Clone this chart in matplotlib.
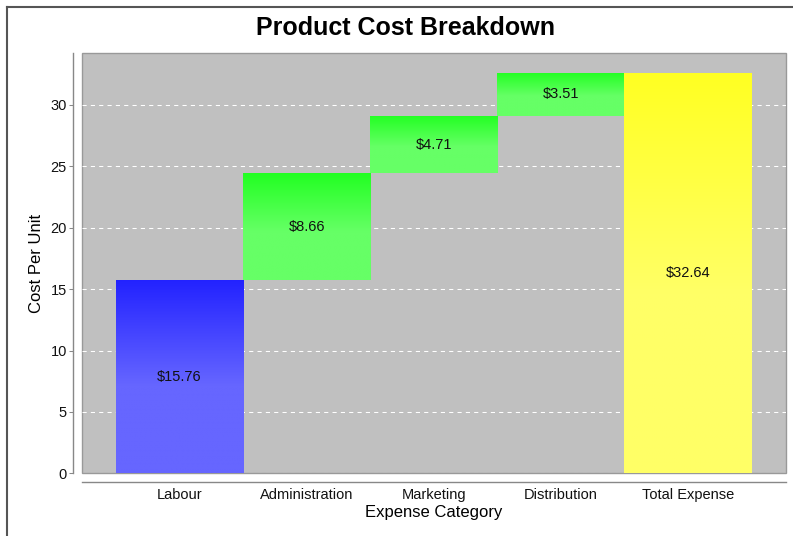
import matplotlib

matplotlib.use("Agg")

import matplotlib.pyplot as plt
import numpy as np
from matplotlib.colors import to_rgb
from matplotlib.lines import Line2D

plt.rcParams["font.family"] = ["Liberation Sans", "DejaVu Sans"]

# Waterfall data (cost per unit, in $)
categories = ["Labour", "Administration", "Marketing", "Distribution", "Total Expense"]
increments = [15.76, 8.66, 4.71, 3.51]
total = 32.64
y_ticks = [0, 5, 10, 15, 20, 25, 30]

# Gradient pairs (top colour, lower colour) as in the JFreeChart waterfall renderer
FIRST = ("#2222FF", "#6666FF")
STEP = ("#22FF22", "#66FF66")
LAST = ("#FFFF22", "#FFFF66")

W, H = 793, 536
fig = plt.figure(figsize=(W / 100, H / 100), dpi=100)

# plot area in pixel coordinates
left, right, top, bottom = 81.5, 786, 52.5, 473.3
ax = fig.add_axes([left / W, 1 - bottom / H, (right - left) / W, (bottom - top) / H])
ax.set_facecolor("#C0C0C0")

heights = increments + [total]
bottoms = list(np.concatenate([[0], np.cumsum(increments)[:-1]])) + [0]
x = np.arange(len(categories))
bars = ax.bar(x, heights, bottom=bottoms, width=1.0, color="none", linewidth=0, zorder=2)

n_steps = 256
frac = np.linspace(0, 1, n_steps)  # 0 at the top of the bar
t = np.clip(frac / 0.55, 0, 1)
for i, bar in enumerate(bars):
    if i == 0:
        pair = FIRST
    elif i == len(bars) - 1:
        pair = LAST
    else:
        pair = STEP
    c1, c2 = np.array(to_rgb(pair[0])), np.array(to_rgb(pair[1]))
    grad = (c1[None, :] * (1 - t[:, None]) + c2[None, :] * t[:, None])[:, None, :]
    x0, y0 = bar.get_x(), bar.get_y()
    img = ax.imshow(grad, extent=(x0, x0 + bar.get_width(), y0, y0 + bar.get_height()),
                    aspect="auto", origin="upper", interpolation="bilinear", zorder=2)
    img.set_clip_path(bar)
    ax.text(x0 + bar.get_width() / 2, y0 + bar.get_height() / 2, f"${heights[i]:.2f}",
            ha="center", va="center", fontsize=10.5, color="#111111", zorder=3)

margin = 34.5 / 127
ax.set_xlim(-0.5 - margin, len(categories) - 0.5 + margin)
ax.set_ylim(0, total * 1.05)

ax.set_yticks(y_ticks)
ax.set_xticks(x)
ax.set_xticklabels(categories)
ax.yaxis.grid(True, color="white", linestyle=(0, (4, 4)), linewidth=0.75)
ax.set_axisbelow(True)

ax.tick_params(axis="x", length=0, pad=4.5, labelsize=10.5, labelcolor="#111111")
ax.tick_params(axis="y", length=3, width=0.75, color="#888888", pad=1.5,
               labelsize=10.5, labelcolor="#111111")

for side in ("top", "right"):
    ax.spines[side].set_visible(False)
for side in ("left", "bottom"):
    ax.spines[side].set_position(("outward", 6))
    ax.spines[side].set_color("#888888")
    ax.spines[side].set_linewidth(1.0)

# plot outline (separate from the offset axis lines)
ax.patch.set_edgecolor("#999999")
ax.patch.set_linewidth(1.0)

fig.text(406 / W, 1 - 35 / H, "Product Cost Breakdown", ha="center", va="baseline",
         fontsize=18, fontweight="bold")
fig.text(433.5 / W, 1 - 517 / H, "Expense Category", ha="center", va="baseline", fontsize=12)
fig.text(36.5 / W, 1 - 263 / H, "Cost Per Unit", ha="center", va="center", rotation=90,
         fontsize=12)

# chart border (only left and top edges fall inside the image)
fig.add_artist(Line2D([7 / W, 7 / W], [0, 1 - 7 / H], color="#555555", linewidth=1.5))
fig.add_artist(Line2D([7 / W, 1], [1 - 7 / H, 1 - 7 / H], color="#555555", linewidth=1.5))

fig.savefig("out.png", dpi=100)
